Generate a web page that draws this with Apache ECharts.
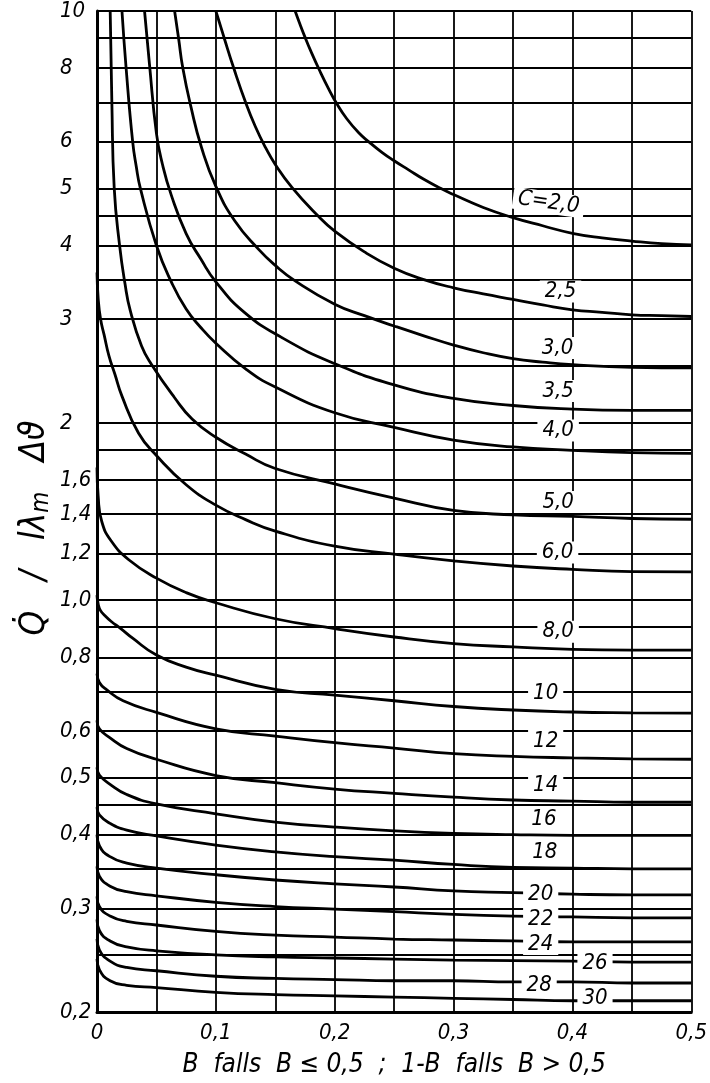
<!DOCTYPE html>
<html>
<head>
<meta charset="utf-8">
<title>Q / l λm Δϑ</title>
<script src="https://cdn.jsdelivr.net/npm/echarts@6/dist/echarts.min.js"></script>
<style>
  html, body { margin: 0; padding: 0; background: #fff; }
  #chart { width: 710px; height: 1083px; }
</style>
</head>
<body>
<div id="chart"></div>
<script>
  // Beschriftung der Kurven (Parameter C)
  const curveLabels = ['C=2,0', '2,5', '3,0', '3,5', '4,0', '5,0', '6,0', '8,0', '10', '12',
    '14', '16', '18', '20', '22', '24', '26', '28', '30'];

  // Kurven [B, Q/l*lambda*dT]
  const c2_0 = [[0.1667, 10], [0.17, 9.59], [0.175, 9.03], [0.18, 8.54], [0.1875, 7.91], [0.195, 7.37], [0.2014, 6.98],
    [0.21, 6.57], [0.22, 6.22], [0.229, 5.99], [0.24, 5.75], [0.25, 5.57], [0.2625, 5.37], [0.275, 5.18], [0.289, 5.0],
    [0.3, 4.88], [0.325, 4.64], [0.35, 4.46], [0.375, 4.32], [0.4, 4.195], [0.425, 4.12], [0.45, 4.07], [0.475, 4.03],
    [0.5, 4.01]];
  const c2_5 = [[0.1, 10], [0.107, 9], [0.1153, 7.97], [0.125, 7.0], [0.1333, 6.36], [0.1417, 5.87], [0.15, 5.49],
    [0.164, 5.02], [0.185, 4.51], [0.2, 4.23], [0.225, 3.9], [0.25, 3.66], [0.275, 3.5], [0.3, 3.39], [0.325, 3.31],
    [0.35, 3.24], [0.375, 3.17], [0.4, 3.11], [0.425, 3.08], [0.45, 3.05], [0.475, 3.04], [0.5, 3.03]];
  const c3_0 = [[0.0653, 10], [0.0686, 9], [0.0722, 8], [0.079, 6.88], [0.088, 5.86], [0.1, 5.04], [0.116, 4.4],
    [0.136, 3.94], [0.15, 3.7], [0.167, 3.48], [0.2, 3.18], [0.225, 3.04], [0.25, 2.92], [0.275, 2.81], [0.3, 2.71],
    [0.325, 2.63], [0.35, 2.57], [0.375, 2.535], [0.4, 2.51], [0.45, 2.485], [0.5, 2.48]];
  const c3_5 = [[0.04, 10], [0.0442, 8.1], [0.05, 6.2], [0.055, 5.5], [0.0625, 4.87], [0.075, 4.19], [0.0875, 3.79],
    [0.1, 3.47], [0.124, 3.08], [0.1556, 2.79], [0.2, 2.52], [0.25, 2.32], [0.3, 2.2], [0.35, 2.14], [0.4, 2.11],
    [0.45, 2.1], [0.5, 2.1]];
  const c4_0 = [[0.021, 10], [0.0245, 8], [0.03, 6], [0.033, 5.45], [0.0365, 5], [0.05, 4.0], [0.0625, 3.47],
    [0.075, 3.12], [0.0875, 2.9], [0.1, 2.73], [0.125, 2.47], [0.15, 2.3], [0.2, 2.08], [0.25, 1.965], [0.3, 1.87],
    [0.35, 1.82], [0.4, 1.796], [0.45, 1.78], [0.5, 1.775]];
  const c5_0 = [[0.0111, 10], [0.0125, 7], [0.0145, 5], [0.019, 4], [0.0235, 3.45], [0.028, 3.1], [0.0375, 2.7],
    [0.046, 2.51], [0.065, 2.21], [0.08, 2.03], [0.1, 1.89], [0.125, 1.77], [0.15, 1.673], [0.2, 1.575], [0.25, 1.49],
    [0.3, 1.42], [0.35, 1.396], [0.4, 1.387], [0.45, 1.376], [0.5, 1.372]];
  const c6_0 = [[0, 3.6], [0.001, 3.25], [0.003, 3.0], [0.006, 2.82], [0.01, 2.6], [0.015, 2.42], [0.021, 2.22],
    [0.035, 1.92], [0.05, 1.76], [0.075, 1.57], [0.1, 1.45], [0.125, 1.37], [0.15, 1.31], [0.2, 1.235], [0.25, 1.197],
    [0.3, 1.166], [0.35, 1.143], [0.4, 1.128], [0.45, 1.118], [0.5, 1.117]];
  const c8_0 = [[0, 1.68], [0.001, 1.5], [0.004, 1.36], [0.012, 1.26], [0.027, 1.17], [0.05, 1.09], [0.075, 1.03],
    [0.1, 0.99], [0.15, 0.93], [0.2, 0.895], [0.25, 0.866], [0.3, 0.844], [0.35, 0.833], [0.4, 0.825], [0.45, 0.823], [0.5, 0.823]];
  const c10 = [[0, 1.02], [0.001, 0.985], [0.003, 0.96], [0.007, 0.94], [0.012, 0.92], [0.02, 0.895], [0.03, 0.862],
    [0.05, 0.807], [0.075, 0.77], [0.1, 0.746], [0.15, 0.706], [0.2, 0.69], [0.25, 0.675], [0.3, 0.66], [0.35, 0.651],
    [0.4, 0.646], [0.45, 0.644], [0.5, 0.643]];
  const c12 = [[0, 0.75], [0.002, 0.725], [0.008, 0.705], [0.022, 0.675], [0.05, 0.645], [0.1, 0.605], [0.15, 0.588],
    [0.2, 0.573], [0.25, 0.561], [0.3, 0.549], [0.35, 0.543], [0.4, 0.54], [0.45, 0.538], [0.5, 0.537]];
  const c14 = [[0, 0.625], [0.002, 0.605], [0.011, 0.584], [0.025, 0.56], [0.05, 0.537], [0.1, 0.504], [0.15, 0.49],
    [0.2, 0.478], [0.25, 0.47], [0.3, 0.463], [0.35, 0.458], [0.4, 0.456], [0.45, 0.454], [0.5, 0.454]];
  const c16 = [[0, 0.52], [0.002, 0.505], [0.011, 0.487], [0.025, 0.468], [0.05, 0.451], [0.1, 0.434], [0.15, 0.42],
    [0.2, 0.412], [0.25, 0.406], [0.3, 0.402], [0.35, 0.4], [0.4, 0.399], [0.45, 0.399], [0.5, 0.399]];
  const c18 = [[0, 0.445], [0.002, 0.432], [0.011, 0.418], [0.025, 0.407], [0.05, 0.398], [0.1, 0.384], [0.15, 0.374],
    [0.2, 0.367], [0.25, 0.362], [0.3, 0.356], [0.35, 0.352], [0.4, 0.351], [0.45, 0.35], [0.5, 0.35]];
  const c20 = [[0, 0.4], [0.002, 0.383], [0.011, 0.367], [0.025, 0.358], [0.05, 0.351], [0.1, 0.342], [0.15, 0.335],
    [0.2, 0.33], [0.25, 0.326], [0.3, 0.321], [0.35, 0.319], [0.4, 0.317], [0.45, 0.316], [0.5, 0.316]];
  const c22 = [[0, 0.353], [0.002, 0.34], [0.011, 0.327], [0.025, 0.32], [0.05, 0.315], [0.1, 0.307], [0.15, 0.302],
    [0.2, 0.299], [0.25, 0.296], [0.3, 0.293], [0.35, 0.291], [0.4, 0.29], [0.45, 0.289], [0.5, 0.289]];
  const c24 = [[0, 0.314], [0.002, 0.302], [0.011, 0.291], [0.025, 0.285], [0.05, 0.281], [0.1, 0.274], [0.15, 0.27],
    [0.2, 0.268], [0.25, 0.266], [0.3, 0.265], [0.35, 0.264], [0.4, 0.263], [0.45, 0.263], [0.5, 0.263]];
  const c26 = [[0, 0.287], [0.002, 0.275], [0.011, 0.264], [0.025, 0.258], [0.05, 0.254], [0.1, 0.25], [0.15, 0.248],
    [0.2, 0.247], [0.25, 0.246], [0.3, 0.245], [0.35, 0.2445], [0.4, 0.244], [0.45, 0.243], [0.5, 0.243]];
  const c28 = [[0, 0.266], [0.002, 0.255], [0.011, 0.244], [0.025, 0.238], [0.05, 0.235], [0.1, 0.23], [0.15, 0.228],
    [0.2, 0.227], [0.25, 0.226], [0.3, 0.226], [0.35, 0.225], [0.4, 0.225], [0.45, 0.224], [0.5, 0.224]];
  const c30 = [[0, 0.246], [0.002, 0.236], [0.011, 0.226], [0.025, 0.222], [0.05, 0.22], [0.1, 0.216], [0.15, 0.214],
    [0.2, 0.213], [0.25, 0.212], [0.3, 0.211], [0.35, 0.21], [0.4, 0.209], [0.45, 0.209], [0.5, 0.209]];

  const curves = [c2_0, c2_5, c3_0, c3_5, c4_0, c5_0, c6_0, c8_0, c10, c12, c14, c16, c18, c20, c22, c24, c26, c28, c30];

  // wo die Beschriftungen stehen (in Achsenwerten)
  const labelAt = [[0.38, 4.73], [0.39, 3.34], [0.3875, 2.68], [0.388, 2.265], [0.388, 1.94], [0.388, 1.468],
    [0.3875, 1.205], [0.388, 0.884], [0.3775, 0.6955], [0.3775, 0.577], [0.3775, 0.485], [0.376, 0.425],
    [0.3767, 0.374], [0.3733, 0.317], [0.3733, 0.2876], [0.3733, 0.261], [0.419, 0.2416], [0.372, 0.222], [0.419, 0.211]];

  // Achsen: Gitterlinien und Teilung
  const yGrid = [0.2, 0.25, 0.3, 0.35, 0.4, 0.45, 0.5, 0.6, 0.7, 0.8, 0.9, 1, 1.2, 1.4, 1.6, 1.8, 2, 2.5, 3, 3.5, 4, 4.5,
    5, 6, 7, 8, 9, 10];
  const yTicks = [0.2, 0.3, 0.4, 0.5, 0.6, 0.8, 1, 1.2, 1.4, 1.6, 2, 3, 4, 5, 6, 8, 10];
  const xTicks = [0, 0.1, 0.2, 0.3, 0.4, 0.5];

  const FONT = "'DejaVu Sans Condensed', 'Liberation Sans Narrow', 'DejaVu Sans', sans-serif";

  function comma(v) {
    if (v === 0) return '0';
    if (v >= 2) return String(v);
    return v.toFixed(1).replace('.', ',');
  }

  const chart = echarts.init(document.getElementById('chart'));

  const series = curves.map((pts, i) => ({
    name: curveLabels[i],
    type: 'line',
    data: pts,
    showSymbol: false,
    smooth: 0.5,
    clip: true,
    z: 3,
    lineStyle: { color: '#000', width: 2.8 }
  }));

  series.push({
    name: 'labels',
    type: 'scatter',
    symbolSize: 0,
    silent: true,
    z: 10,
    itemStyle: { opacity: 1 },
    data: labelAt.map((p, i) => ({
      value: p,
      label: i === 0 ? { rotate: -8 } : {}
    })),
    label: {
      show: true,
      position: 'inside',
      formatter: p => curveLabels[p.dataIndex],
      color: '#000',
      fontSize: 22,
      fontStyle: 'italic',
      fontFamily: FONT,
      backgroundColor: '#fff',
      padding: [0, 5]
    }
  });

  const option = {
    animation: false,
    backgroundColor: '#fff',
    grid: { left: 97, right: 13, top: 7, bottom: 66, containLabel: false },
    xAxis: {
      type: 'value',
      min: 0,
      max: 0.5,
      interval: 0.05,
      name: 'B  falls  B ≤ 0,5  ;  1-B  falls  B > 0,5',
      nameLocation: 'middle',
      nameGap: 40,
      nameTextStyle: { color: '#000', fontSize: 26, fontStyle: 'italic', fontFamily: FONT },
      axisLine: { show: true, lineStyle: { color: '#000', width: 3 } },
      axisTick: { show: false },
      axisLabel: {
        customValues: xTicks,
        formatter: comma,
        color: '#000',
        fontSize: 22,
        fontStyle: 'italic',
        fontFamily: FONT,
        margin: 10
      },
      splitLine: { show: true, lineStyle: { color: '#000', width: 1.8 } }
    },
    yAxis: {
      type: 'log',
      logBase: 10,
      min: 0.2,
      max: 10,
      axisLine: { show: true, lineStyle: { color: '#000', width: 3 } },
      axisTick: { show: false, customValues: yGrid },
      axisLabel: {
        customValues: yTicks,
        formatter: comma,
        color: '#000',
        fontSize: 22,
        fontStyle: 'italic',
        fontFamily: FONT,
        align: 'left',
        margin: 37
      },
      splitLine: { show: true, lineStyle: { color: '#000', width: 1.8 } }
    },
    graphic: [{
      type: 'text',
      x: 35,
      y: 528,
      rotation: Math.PI / 2,
      style: {
        text: '{t|Q̇   /   lλ}{s|m}{t|   Δϑ}',
        align: 'center',
        verticalAlign: 'middle',
        rich: {
          t: { fontSize: 35, fontStyle: 'italic', fontFamily: FONT, fill: '#000' },
          s: { fontSize: 24, fontStyle: 'italic', fontFamily: FONT, fill: '#000', padding: [13, 0, 0, 0] }
        }
      }
    }],
    series: series
  };

  chart.setOption(option);
</script>
</body>
</html>
